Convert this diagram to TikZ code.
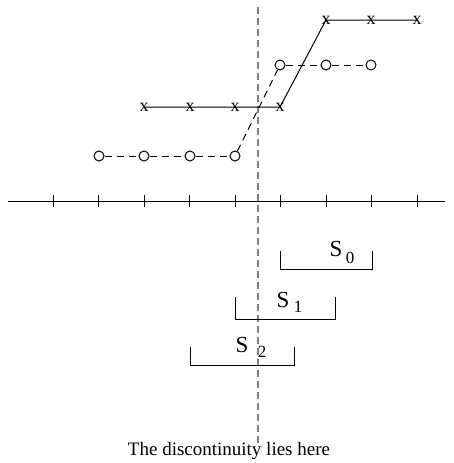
\documentclass[tikz,border=0pt]{standalone}
\usepackage{fontspec}
\setmainfont{Liberation Serif}
\begin{document}
\begin{tikzpicture}[x=1pt,y=-1pt,
  ln/.style={line width=1pt},
  dsh/.style={line width=1pt,dash pattern=on 7pt off 5pt},
  vdash/.style={line width=1.2pt,gray,dash pattern=on 7pt off 4pt},
  omark/.style={circle,draw,line width=1pt,minimum size=10pt,inner sep=0pt},
  xmark/.style={inner sep=0pt,font=\fontsize{18}{18}\selectfont},
  slab/.style={inner sep=0pt,font=\fontsize{23}{23}\selectfont},
  sub/.style={inner sep=0pt,font=\fontsize{17}{17}\selectfont},
  captext/.style={inner sep=0pt,font=\fontsize{19}{19}\selectfont}]
\useasboundingbox (0,0) rectangle (453,463);
% vertical discontinuity line
\coordinate (vt) at (258,7);
\coordinate (vb) at (258,443);
\draw[vdash] (vt) -- (vb);
% axis
\coordinate (al) at (8,201);
\coordinate (ar) at (445,201);
\draw[ln] (al) -- (ar);
\foreach \i/\x in {1/53,2/98.5,3/144,4/189.5,5/235,6/280.5,7/326,8/371.5,9/417}{
  \coordinate (t\i a) at (\x,195);
  \coordinate (t\i b) at (\x,207);
  \draw[ln] (t\i a) -- (t\i b);
}
% x marks
\coordinate (x1) at (144,107);
\coordinate (x2) at (190,107);
\coordinate (x3) at (235,107);
\coordinate (x4) at (280,107);
\coordinate (x5) at (326,20);
\coordinate (x6) at (371,20);
\coordinate (x7) at (417,20);
\draw[ln] (x1) -- (x2) -- (x3) -- (x4) -- (x5) -- (x6) -- (x7);
\foreach \i in {1,...,7}{\node[xmark] (xm\i) at (x\i) {x};}
% o marks
\node[omark] (o1) at (99,156) {};
\node[omark] (o2) at (144,156) {};
\node[omark] (o3) at (190,156) {};
\node[omark] (o4) at (235,156) {};
\node[omark] (o5) at (280,65) {};
\node[omark] (o6) at (326,65) {};
\node[omark] (o7) at (371,65) {};
\draw[dsh] (o1) -- (o2);
\draw[dsh] (o2) -- (o3);
\draw[dsh] (o3) -- (o4);
\draw[dsh] (o4) -- (o5);
\draw[dsh] (o5) -- (o6);
\draw[dsh] (o6) -- (o7);
% brackets
\coordinate (s0a) at (280,251);
\coordinate (s0b) at (280,269);
\coordinate (s0c) at (372,269);
\coordinate (s0d) at (372,251);
\draw[ln] (s0a) -- (s0b) -- (s0c) -- (s0d);
\node[slab,anchor=base] (s0) at (336,256) {S};
\node[sub,anchor=base] (n0) at (350,263) {0};
\coordinate (s1a) at (235,297);
\coordinate (s1b) at (235,319);
\coordinate (s1c) at (335,319);
\coordinate (s1d) at (335,297);
\draw[ln] (s1a) -- (s1b) -- (s1c) -- (s1d);
\node[slab,anchor=base] (s1) at (283,307) {S};
\node[sub,anchor=base] (n1) at (298,312) {1};
\coordinate (s2a) at (190,347);
\coordinate (s2b) at (190,365);
\coordinate (s2c) at (294,365);
\coordinate (s2d) at (294,347);
\draw[ln] (s2a) -- (s2b) -- (s2c) -- (s2d);
\node[slab,anchor=base] (s2) at (242,352) {S};
\node[sub,anchor=base] (n2) at (262,357) {2};
% caption
\node[captext,anchor=base] (capt) at (229,455) {The discontinuity lies here};
\end{tikzpicture}
\end{document}
